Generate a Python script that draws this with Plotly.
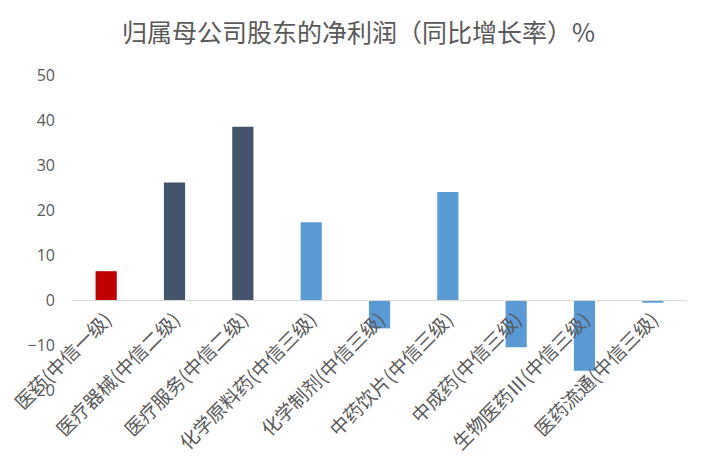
import plotly.graph_objects as go

categories = ["医药(中信一级)", "医疗器械(中信二级)", "医疗服务(中信二级)", "化学原料药(中信三级)",
              "化学制剂(中信三级)", "中药饮片(中信三级)", "中成药(中信三级)", "生物医药Ⅲ(中信三级)",
              "医药流通(中信三级)"]
values = [6.4, 26.1, 38.5, 17.3, -6.3, 24.0, -10.5, -15.7, -0.6]
bar_colors = ["#C00000", "#44546A", "#44546A", "#5B9BD5", "#5B9BD5", "#5B9BD5", "#5B9BD5", "#5B9BD5", "#5B9BD5"]
y_ticks = [-20, -10, 0, 10, 20, 30, 40, 50]
y_min, y_max = -20, 50

fig = go.Figure(go.Bar(x=categories, y=values, marker=dict(color=bar_colors, line=dict(width=0)), width=0.31))

font_family = "Noto Sans CJK SC"
fig.update_layout(
    width=701, height=465,
    margin=dict(l=64, r=22, t=67, b=83),
    paper_bgcolor="white", plot_bgcolor="white",
    showlegend=False,
    title=dict(text="归属母公司股东的净利润（同比增长率）%", x=0.5, xanchor="center",
               y=1 - 25 / 465, yanchor="middle", yref="container",
               font=dict(family=font_family, size=25, color="#595959")),
    xaxis=dict(anchor="free", position=(0 - y_min) / (y_max - y_min),
               showline=True, linecolor="#D9D9D9", linewidth=1,
               ticks="", tickangle=-45, automargin=False, showgrid=False,
               tickfont=dict(family=font_family, size=19, color="#595959")),
    yaxis=dict(range=[y_min, y_max], tickvals=y_ticks, showgrid=False, zeroline=False,
               showline=False, ticks="", automargin=False, ticklabelstandoff=16,
               tickfont=dict(family="Open Sans", size=16, color="#595959")),
)

fig.write_html("out.html")
